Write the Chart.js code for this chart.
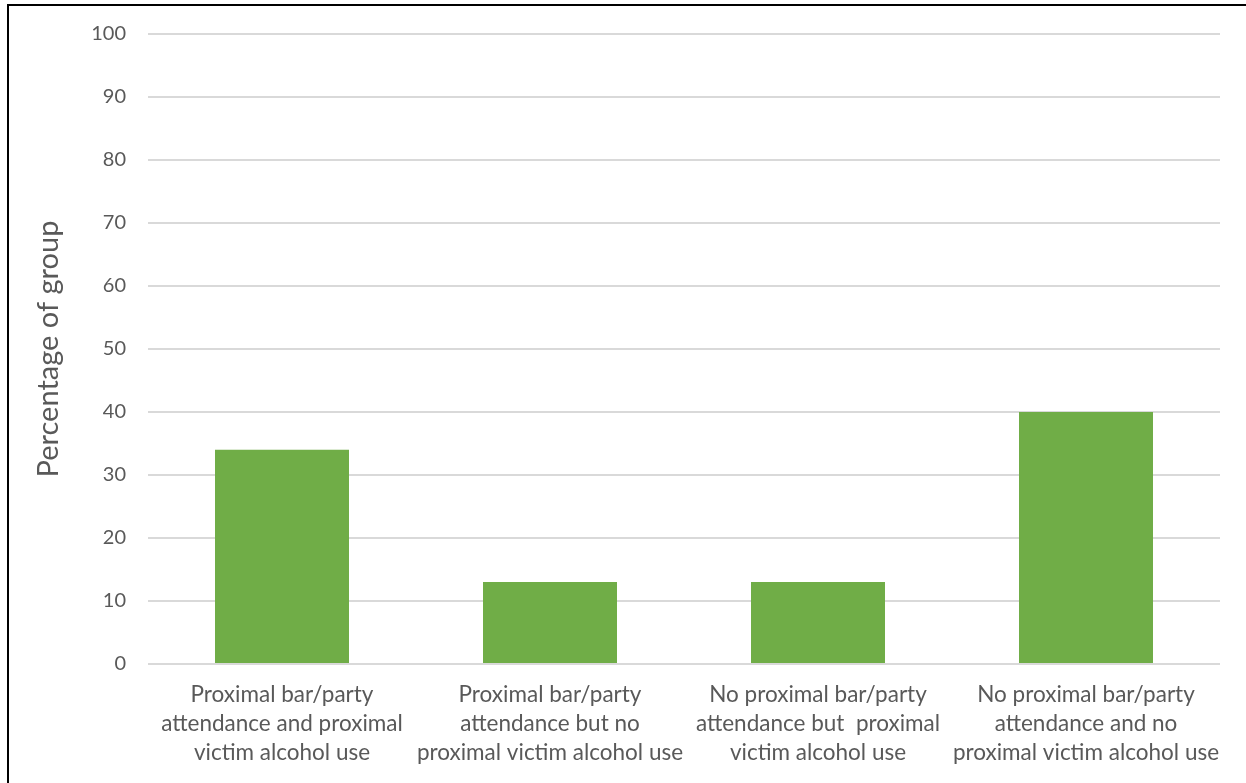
<!DOCTYPE html>
<html>
<head>
<meta charset="utf-8">
<script src="https://cdn.jsdelivr.net/npm/chart.js@4.4.1/dist/chart.umd.min.js"></script>
<style>
  body { margin: 0; background: #fff; overflow: hidden; }
  #wrap { position: relative; width: 1246px; height: 783px; }
  #frame { position: absolute; left: 7px; top: 4px; width: 1300px; height: 900px;
           border-left: 2px solid #000; border-top: 2px solid #000; }
  canvas { position: absolute; left: 0; top: 0; }
</style>
</head>
<body>
<div id="wrap">
  <canvas id="mybargraph" width="1246" height="783"></canvas>
  <div id="frame"></div>
</div>
<script>
// groups on the x axis (line breaks as in the picture)
const groupLabels = [
    ['Proximal bar/party', 'attendance and proximal', 'victim alcohol use'],
    ['Proximal bar/party', 'attendance but no', 'proximal victim alcohol use'],
    ['No proximal bar/party', 'attendance but  proximal', 'victim alcohol use'],
    ['No proximal bar/party', 'attendance and no', 'proximal victim alcohol use']
]
const percentValues = [34, 13, 13, 40]
const yTicks = [0, 10, 20, 30, 40, 50, 60, 70, 80, 90, 100]

const textColor = '#595959'
const fontName = 'Lato, "Liberation Sans", sans-serif'

const canvasforbargraph = document.getElementById('mybargraph')
new Chart(canvasforbargraph, {
    type: 'bar',
    data: {
        labels: groupLabels,
        datasets: [{
            label: 'Percentage of group',
            data: percentValues,
            backgroundColor: '#70AD47',
            borderWidth: 0,
            categoryPercentage: 1,
            barPercentage: 0.5
        }]
    },
    options: {
        responsive: false,
        animation: false,
        layout: { padding: { left: 27, top: 34, right: 26, bottom: 0 } },
        plugins: {
            legend: { display: false },
            tooltip: { enabled: false }
        },
        scales: {
            x: {
                grid: { display: false, drawTicks: false },
                border: { display: false },
                ticks: {
                    color: textColor,
                    font: { family: fontName, size: 22.5, lineHeight: 1.29 },
                    padding: 16,
                    maxRotation: 0,
                    autoSkip: false
                },
                afterFit: function (axis) { axis.height = 783 - 664 }
            },
            y: {
                min: 0,
                max: 100,
                afterBuildTicks: function (axis) {
                    axis.ticks = yTicks.map(v => ({ value: v }))
                },
                grid: { color: '#d9d9d9', lineWidth: 2, drawTicks: false },
                border: { display: false },
                ticks: {
                    color: textColor,
                    font: { family: fontName, size: 20 },
                    padding: 22
                },
                title: {
                    display: true,
                    text: 'Percentage of group',
                    color: textColor,
                    font: { family: fontName, size: 29 },
                    padding: { top: 4, bottom: 4 }
                },
                afterFit: function (axis) { axis.width = 148 - 27 }
            }
        }
    }
})
</script>
</body>
</html>
